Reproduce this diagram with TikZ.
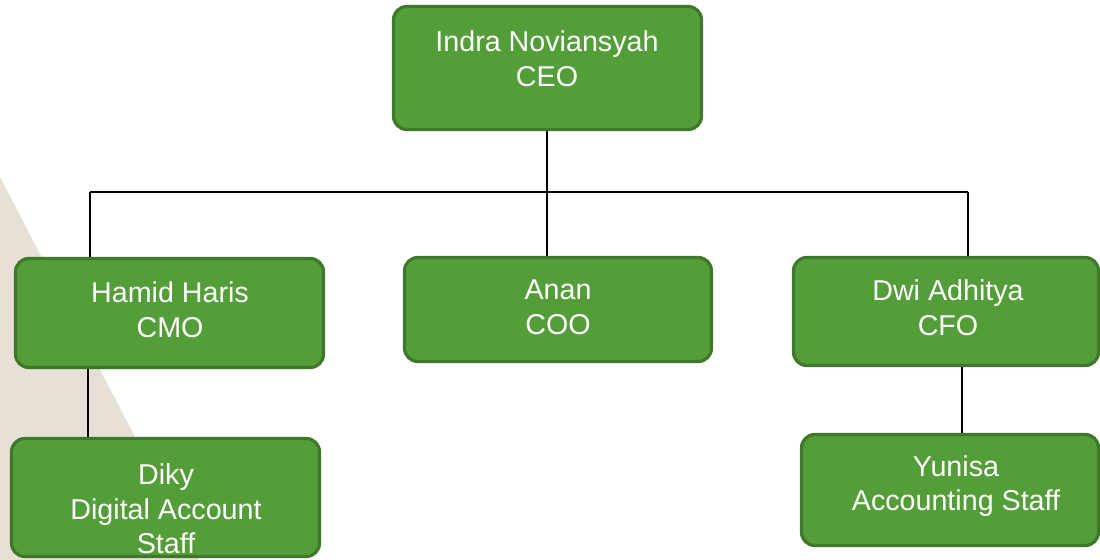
\documentclass[tikz,border=0pt]{standalone}
\usepackage{fontspec}
\setmainfont{Liberation Sans}
\definecolor{boxfill}{RGB}{84,158,57}
\definecolor{boxline}{RGB}{63,120,43}
\definecolor{beige}{RGB}{230,224,214}
\begin{document}
\begin{tikzpicture}[x=0.75pt,y=-0.75pt,
  box/.style={draw=boxline,fill=boxfill,line width=2.4pt,rounded corners=10pt,inner sep=0pt},
  txt/.style={text=white,align=center,font=\fontsize{21.5}{26}\selectfont,inner sep=0pt},
  conn/.style={line width=1.3pt,black}]
\useasboundingbox (0,0) rectangle (1100,560);
\fill[beige] (0,177) -- (199,560) -- (0,560) -- cycle;
% coordinates for the connector bus
\coordinate (busL) at (90,192);
\coordinate (busM) at (547,192);
\coordinate (busR) at (968,192);
\coordinate (dropL) at (88,400);
\coordinate (dropR) at (962,400);
% boxes
\node[box,minimum width=308*0.75pt,minimum height=123*0.75pt] (ceo) at (547.5,68) {};
\node[box,minimum width=308*0.75pt,minimum height=109*0.75pt] (cmo) at (169.5,313) {};
\node[box,minimum width=307*0.75pt,minimum height=104*0.75pt] (coo) at (558,309.5) {};
\node[box,minimum width=305*0.75pt,minimum height=108*0.75pt] (cfo) at (946,311.5) {};
\node[box,minimum width=308*0.75pt,minimum height=118*0.75pt] (diky) at (165.5,497.5) {};
\node[box,minimum width=297*0.75pt,minimum height=111*0.75pt] (yun) at (950,490) {};
% connectors
\draw[conn] (busM |- ceo.south) -- (busM);
\draw[conn] (busL) -- (busR);
\draw[conn] (busL) -- (busL |- cmo.north);
\draw[conn] (busM) -- (busM |- coo.north);
\draw[conn] (busR) -- (busR |- cfo.north);
\draw[conn] (dropL |- cmo.south) -- (dropL |- diky.north);
\draw[conn] (dropR |- cfo.south) -- (dropR |- yun.north);
% texts
\node[txt] (ceot) at (547,59) {Indra Noviansyah\\CEO};
\node[txt] (cmot) at (170,310) {Hamid Haris\\CMO};
\node[txt] (coot) at (558,307) {Anan\\COO};
\node[txt] (cfot) at (948,308) {Dwi Adhitya\\CFO};
\node[txt] (dikyt) at (166,509) {Diky\\Digital Account\\Staff};
\node[txt] (yunt) at (956,486) {Yunisa\\Accounting Staff};
\end{tikzpicture}
\end{document}
